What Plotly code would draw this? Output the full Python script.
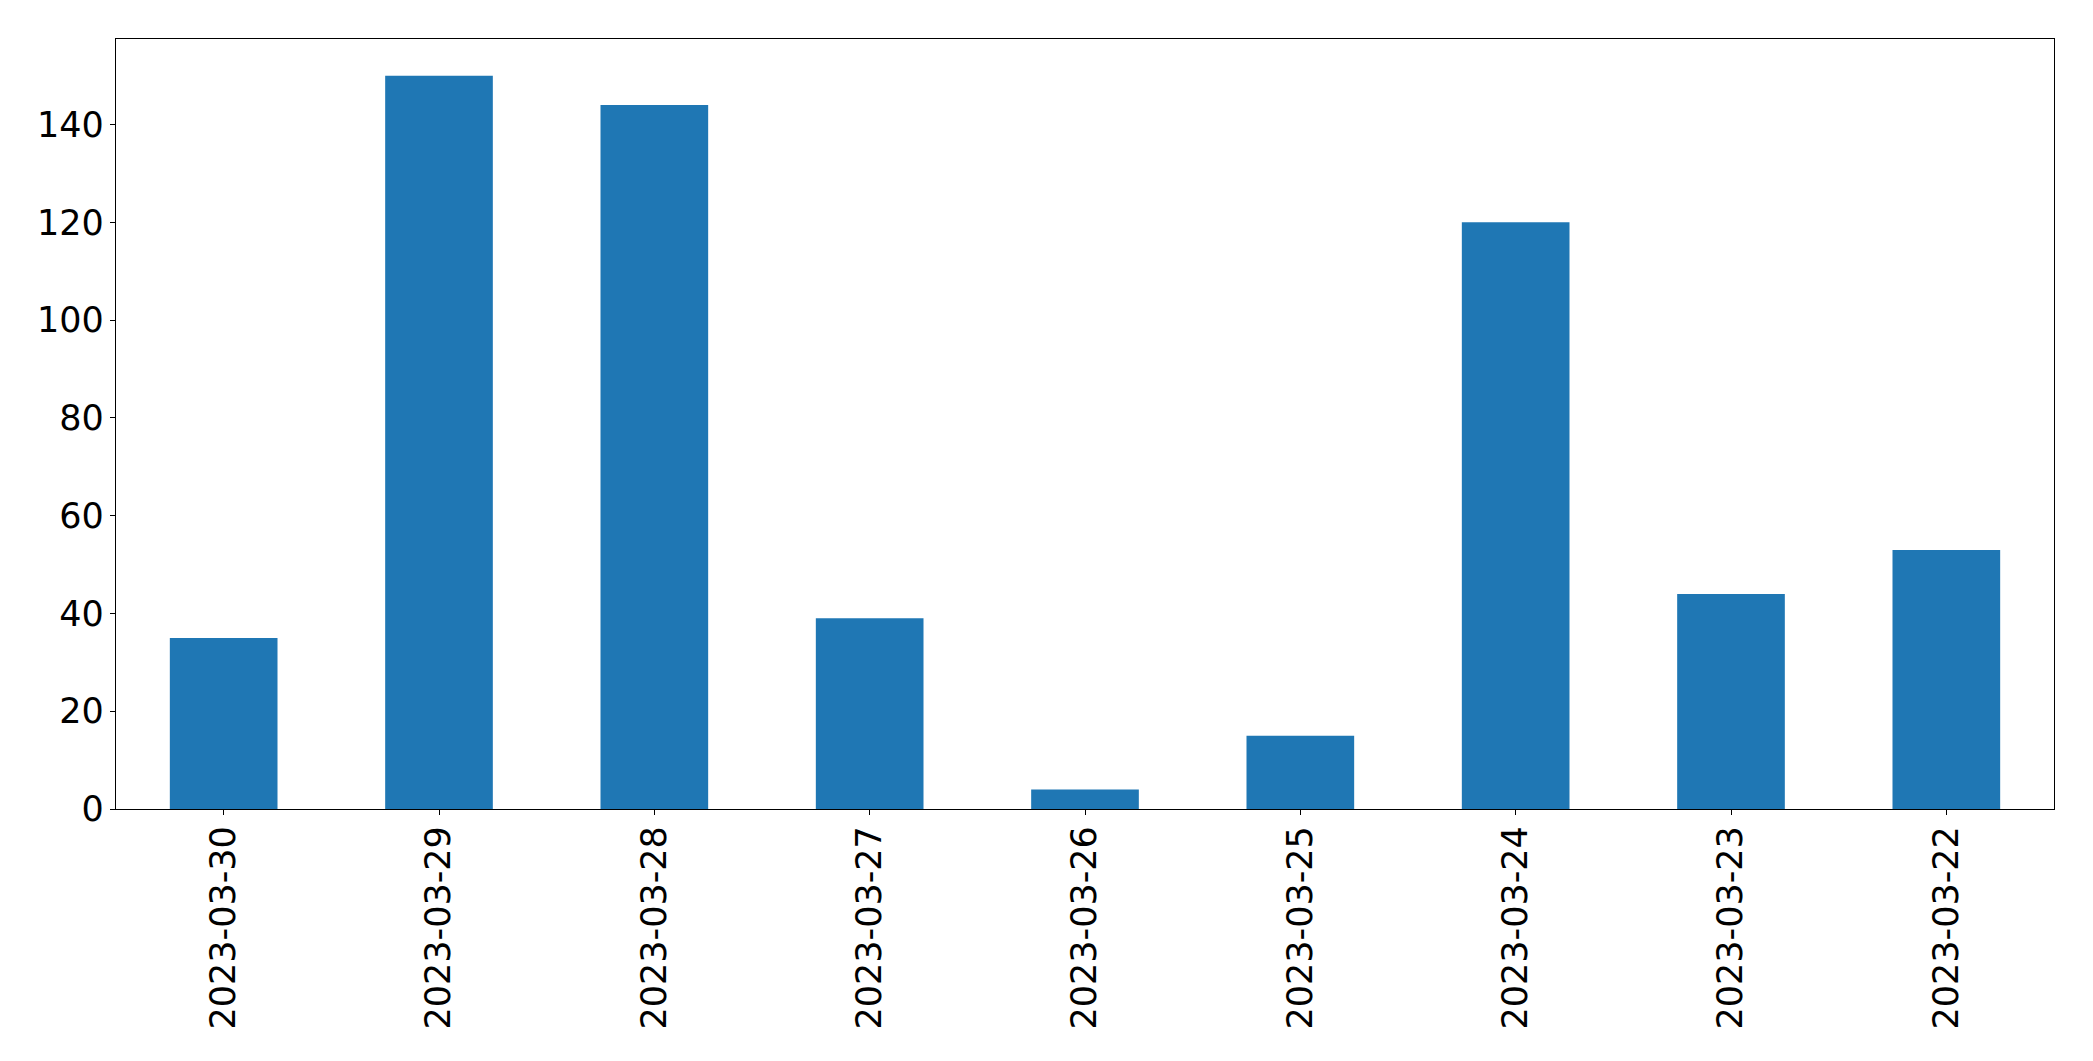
import plotly.graph_objects as go

dates = ["2023-03-30", "2023-03-29", "2023-03-28", "2023-03-27", "2023-03-26",
         "2023-03-25", "2023-03-24", "2023-03-23", "2023-03-22"]
counts = [35, 150, 144, 39, 4, 15, 120, 44, 53]
y_ticks = [0, 20, 40, 60, 80, 100, 120, 140]

fig = go.Figure(go.Bar(x=dates, y=counts, width=0.5, marker=dict(color="#1f77b4", line=dict(width=0))))

fig.update_layout(
    width=2093, height=1061,
    margin=dict(l=108, r=47, t=31, b=260, pad=0),
    paper_bgcolor="white", plot_bgcolor="white",
    font=dict(family="DejaVu Sans", size=35, color="black"),
    showlegend=False,
)
fig.update_xaxes(type="category", range=[-0.5, 8.5], tickangle=-90,
                 showline=True, linecolor="black", linewidth=1.3, mirror=True,
                 ticks="outside", ticklen=5, tickcolor="black", tickwidth=1.3,
                 ticklabelstandoff=-3,
                 showgrid=False, zeroline=False)
fig.update_yaxes(range=[0, 157.5], tickvals=y_ticks,
                 showline=True, linecolor="black", linewidth=1.3, mirror=True,
                 ticks="outside", ticklen=5, tickcolor="black", tickwidth=1.3,
                 ticklabelstandoff=-1,
                 showgrid=False, zeroline=False)

fig.write_html("out.html")
